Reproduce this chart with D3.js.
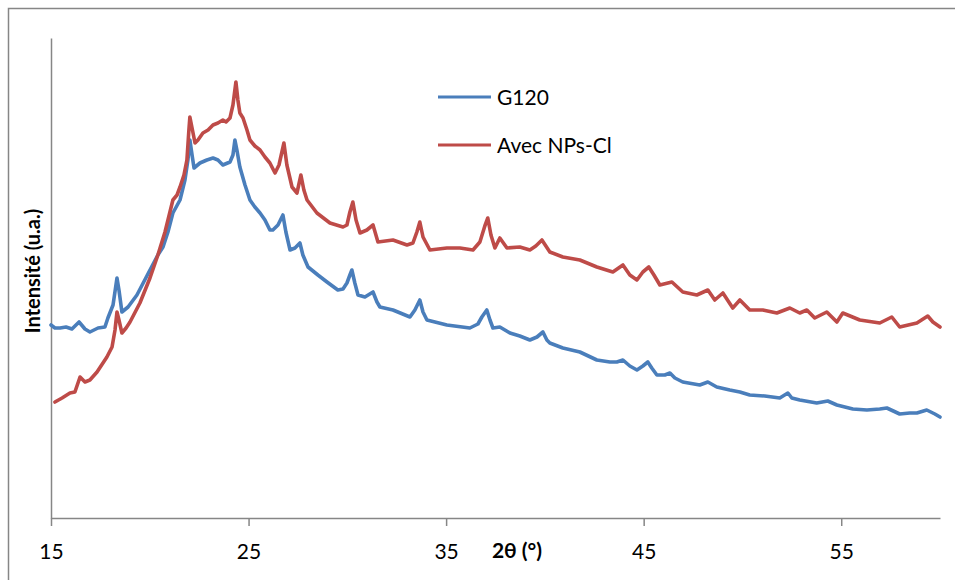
<!DOCTYPE html>
<html><head><meta charset="utf-8">
<script src="https://cdn.jsdelivr.net/npm/d3@7"></script>
<style>body{margin:0;background:#fff}svg{display:block}</style>
</head><body>
<svg id="c" width="955" height="580"></svg>
<script>
const xTicks = [15, 25, 35, 45, 55];
const seriesNames = ["G120", "Avec NPs-Cl"];
const seriesColors = ["#4A7EBB", "#BE4B48"];

const g120Theta = [
 15.00,15.20,15.46,15.76,16.06,16.42,16.72,16.97,17.38,17.73,
 17.88,18.14,18.34,18.44,18.59,18.90,19.35,20.01,20.41,20.67,
 20.92,21.17,21.53,21.78,21.93,22.03,22.14,22.24,22.54,22.89,
 23.20,23.45,23.70,24.06,24.21,24.31,24.41,24.56,24.82,25.07,
 25.32,25.58,25.83,26.08,26.23,26.49,26.74,26.89,27.10,27.35,
 27.60,27.75,28.01,28.51,28.97,29.52,29.78,29.98,30.13,30.23,
 30.38,30.54,30.89,31.30,31.50,31.65,32.31,33.17,33.42,33.67,
 33.83,34.03,35.04,36.20,36.61,36.81,37.06,37.22,37.37,37.72,
 38.23,38.73,39.24,39.60,39.90,40.10,40.25,40.91,41.77,42.63,
 43.29,43.64,43.95,44.30,44.66,44.96,45.21,45.41,45.67,46.07,
 46.33,46.58,46.98,47.84,48.25,48.70,49.36,49.87,50.37,51.13,
 51.89,52.30,52.50,52.90,53.76,54.32,54.78,55.59,56.30,56.95,
 57.31,57.96,58.47,58.83,59.33,59.74,60.00];
const g120Int = [
 193,190,190,191,189,196,189,186,190,191,
 200,213,240,228,206,211,223,248,263,271,
 286,305,318,338,358,378,363,350,355,358,
 360,358,353,356,363,378,368,351,333,318,
 311,305,298,288,288,293,303,286,268,270,
 275,263,251,243,236,228,229,235,243,248,
 235,223,221,226,216,211,208,201,208,218,
 206,198,193,190,194,201,208,198,190,191,
 185,182,178,181,186,178,175,170,166,158,
 156,156,158,152,148,152,156,150,143,143,
 145,140,136,133,136,131,128,126,123,122,
 120,125,120,118,115,117,113,109,108,109,
 110,104,105,105,108,104,101];

const npTheta = [
 15.20,15.56,15.96,16.21,16.47,16.72,16.97,17.33,17.83,18.09,
 18.24,18.34,18.44,18.59,18.80,19.00,19.50,20.01,20.41,20.52,
 20.77,20.92,21.17,21.38,21.53,21.73,21.88,21.98,22.03,22.14,
 22.29,22.44,22.69,22.95,23.20,23.45,23.70,23.86,24.06,24.21,
 24.36,24.46,24.56,24.72,24.92,25.07,25.32,25.58,25.83,26.08,
 26.34,26.54,26.79,26.94,27.20,27.45,27.65,27.80,27.96,28.46,
 29.12,29.78,29.98,30.13,30.28,30.44,30.64,30.99,31.30,31.55,
 32.31,33.02,33.32,33.52,33.67,33.83,34.18,35.04,35.70,36.36,
 36.71,36.96,37.11,37.27,37.47,37.72,38.08,38.73,39.24,39.54,
 39.85,40.05,40.25,40.91,41.77,42.63,43.44,43.95,44.30,44.66,
 44.96,45.26,45.52,45.82,46.43,46.98,47.69,48.25,48.60,49.01,
 49.51,49.87,50.37,51.03,51.74,52.40,52.90,53.26,53.66,54.27,
 54.78,55.08,55.94,56.95,57.56,57.96,58.83,59.38,59.64,60.00];
const npInt = [
 116,120,125,126,141,136,138,146,161,171,
 188,206,198,185,190,196,215,240,263,270,
 286,298,318,323,331,343,358,388,401,390,
 375,378,385,388,393,395,398,396,400,413,
 436,418,405,400,388,378,372,368,361,355,
 345,353,375,353,331,325,343,328,318,305,
 295,291,293,306,316,298,285,288,293,276,
 278,273,275,286,296,281,268,270,270,268,
 276,292,300,283,270,280,270,271,268,272,
 278,272,266,261,258,251,246,253,243,238,
 246,251,243,233,236,226,223,228,218,225,
 210,218,208,208,205,210,205,208,200,206,
 196,205,198,195,201,191,195,202,196,191];

const svg = d3.select("#c");
const font = "Lato, 'Open Sans', sans-serif";
const axisCol = "#868686";

// outer frame
svg.append("rect").attr("x", 8.5).attr("y", 8.5).attr("width", 960).attr("height", 600)
  .attr("fill", "none").attr("stroke", axisCol).attr("stroke-width", 1.5);

const x = d3.scaleLinear().domain([15, 60]).range([51, 940]);
const y = d3.scaleLinear().domain([0, 480]).range([518, 38]);

// y axis (no ticks)
const yAx = svg.append("g").attr("transform", `translate(${x(15)},0)`)
  .call(d3.axisLeft(y).tickValues([]).tickSizeOuter(0));
yAx.select(".domain").attr("stroke", axisCol).attr("stroke-width", 1.5);

// x axis
const xAx = svg.append("g").attr("transform", `translate(0,${y(0)})`)
  .call(d3.axisBottom(x).tickValues(xTicks).tickSize(8).tickSizeOuter(0).tickPadding(18).tickFormat(d3.format("d")));
xAx.select(".domain").attr("stroke", axisCol).attr("stroke-width", 1.5);
xAx.selectAll(".tick line").attr("stroke", axisCol).attr("stroke-width", 1.5);
xAx.selectAll(".tick text").attr("font-family", font).attr("font-size", 21).attr("fill", "#000");

// axis titles
svg.append("text").attr("x", 517).attr("y", 558).attr("text-anchor", "middle")
  .attr("font-family", font).attr("font-weight", "bold").attr("font-size", 21).text("2θ (°)");
svg.append("text").attr("transform", "translate(40,271) rotate(-90)").attr("text-anchor", "middle")
  .attr("font-family", font).attr("font-weight", "bold").attr("font-size", 20).text("Intensité (u.a.)");

const line = d3.line().x(d => x(d[0])).y(d => y(d[1]));
const series = [
  d3.zip(g120Theta, g120Int),
  d3.zip(npTheta, npInt)
];
series.forEach((s, i) => {
  svg.append("path").datum(s).attr("d", line).attr("fill", "none")
    .attr("stroke", seriesColors[i]).attr("stroke-width", 3.6)
    .attr("stroke-linejoin", "round").attr("stroke-linecap", "round");
});

// legend
const lg = svg.append("g");
seriesNames.forEach((n, i) => {
  const yy = 97 + i * 48;
  lg.append("line").attr("x1", 438).attr("x2", 491).attr("y1", yy).attr("y2", yy)
    .attr("stroke", seriesColors[i]).attr("stroke-width", 3);
  lg.append("text").attr("x", 497).attr("y", yy + 8).attr("font-family", font)
    .attr("font-size", 21).attr("fill", "#000").text(n);
});
</script>
</body></html>
